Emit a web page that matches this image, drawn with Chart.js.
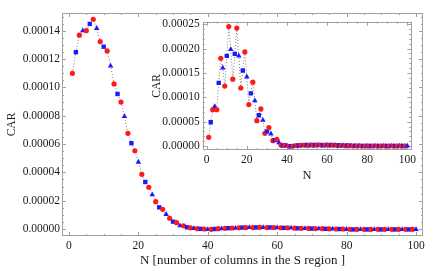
<!DOCTYPE html>
<html>
<head>
<meta charset="utf-8">
<script src="https://cdn.jsdelivr.net/npm/chart.js@4.4.0/dist/chart.umd.min.js"></script>
<style>
  html, body { margin: 0; padding: 0; background: #fff; }
  #wrap { position: relative; width: 436px; height: 271px; }
  #main { position: absolute; left: 0; top: 0; }
  #inset { position: absolute; left: 145px; top: 10px; }
</style>
</head>
<body>
<div id="wrap">
  <canvas id="main" width="436" height="271" style="width:436px;height:271px"></canvas>
  <canvas id="inset" width="275" height="177" style="width:275px;height:177px"></canvas>
</div>
<script>
// N = 1..100
const nValues = [];
for (let i = 1; i <= 100; i++) nValues.push(i);

// main panel, CAR vs N
const carMain = [
  1.100e-4, 1.249e-4, 1.369e-4, 1.401e-4, 1.401e-4, 1.449e-4, 1.482e-4, 1.418e-4, 1.324e-4, 1.288e-4,
  1.258e-4, 1.152e-4, 1.025e-4, 9.54e-5, 8.97e-5, 7.96e-5, 6.76e-5, 6.06e-5, 5.53e-5, 4.73e-5,
  3.86e-5, 3.32e-5, 2.95e-5, 2.42e-5, 1.93e-5, 1.53e-5, 1.39e-5, 1.04e-5, 7.6e-6, 5.2e-6,
  4.5e-6, 2.3e-6, 2.3e-6, 1.2e-6, 8e-7, 4e-7, 2e-7, 1e-7, 0, -3e-7,
  -2e-7, 0, 2e-7, 3e-7, 5e-7, 6e-7, 7e-7, 6e-7, 8e-7, 1.0e-6,
  1.0e-6, 1.1e-6, 1.0e-6, 1.1e-6, 1.2e-6, 1.1e-6, 1.0e-6, 1.1e-6, 1.0e-6, 1.0e-6,
  9e-7, 8e-7, 8e-7, 7e-7, 6e-7, 5e-7, 5e-7, 4e-7, 4e-7, 3e-7,
  3e-7, 2e-7, 2e-7, 1e-7, 1e-7, 1e-7, 0, 0, 0, -2e-7,
  -2e-7, -3e-7, -2e-7, -3e-7, -2e-7, -3e-7, -2e-7, -3e-7, -2e-7, -3e-7,
  -2e-7, -3e-7, -2e-7, -3e-7, -2e-7, -3e-7, -2e-7, -3e-7, -2e-7, -3e-7
];

// inset panel, CAR vs N
const carInset = [
  1.77e-5, 4.87e-5, 7.45e-5, 8.1e-5, 7.45e-5, 1.295e-4, 1.80e-4, 1.60e-4, 1.23e-4, 1.85e-4,
  2.45e-4, 1.98e-4, 1.37e-4, 1.89e-4, 2.42e-4, 1.85e-4, 1.19e-4, 1.55e-4, 1.93e-4, 1.42e-4,
  8.5e-5, 1.08e-4, 1.31e-4, 9.3e-5, 5.2e-5, 6.3e-5, 7.6e-5, 5.3e-5, 2.6e-5, 3.0e-5,
  3.8e-5, 2.5e-5, 1.1e-5, 1.2e-5, 1.35e-5, 7e-6, 2e-6, 1e-6, 1.5e-6, 5e-7,
  -5e-7, -5e-7, 0, 0, 1e-6, 1e-6, 1.5e-6, 1e-6, 1.5e-6, 2e-6,
  1.5e-6, 2e-6, 1.5e-6, 2e-6, 2e-6, 1.5e-6, 2e-6, 1.5e-6, 2e-6, 2e-6,
  1.5e-6, 2e-6, 1.5e-6, 1.5e-6, 1e-6, 1.5e-6, 1e-6, 1e-6, 5e-7, 1e-6,
  5e-7, 5e-7, 0, 5e-7, 0, 5e-7, 0, 0, 0, 0,
  0, 0, 0, 0, 0, 0, 0, 0, 0, 0,
  0, 0, 0, 0, 0, 0, 0, 0, 0, 0
];

// axis ticks
const xTicks = [0, 20, 40, 60, 80, 100];
const yTicksMain = [0, 0.00002, 0.00004, 0.00006, 0.00008, 0.00010, 0.00012, 0.00014];
const yTicksInset = [0, 0.00005, 0.00010, 0.00015, 0.00020, 0.00025];

const serif = 'Liberation Serif';
const frameColor = '#a0a0a0';
const textColor = '#1a1a1a';

function markStyle(n) {
  if (n % 2 === 1) return 'circle';
  return n % 4 === 2 ? 'rect' : 'triangle';
}

// Mathematica-like frame with inward ticks on all four sides
const frameTicks = {
  id: 'frameTicks',
  beforeDatasetsDraw(chart, args, opts) {
    const {ctx, chartArea: a, scales: {x, y}} = chart;
    ctx.save();
    ctx.strokeStyle = frameColor;
    ctx.lineWidth = 1;
    ctx.strokeRect(Math.round(a.left) + 0.5, Math.round(a.top) + 0.5,
      Math.round(a.right - a.left) - 1, Math.round(a.bottom - a.top) - 1);
    ctx.beginPath();
    for (let v = opts.xMinorStart; v <= x.max; v += opts.xMinorStep) {
      const vv = Math.round(v * 1e6) / 1e6;
      if (vv < x.min) continue;
      const len = xTicks.includes(vv) ? 4 : 2;
      const px = Math.round(x.getPixelForValue(vv)) + 0.5;
      ctx.moveTo(px, a.bottom); ctx.lineTo(px, a.bottom - len);
      ctx.moveTo(px, a.top); ctx.lineTo(px, a.top + len);
    }
    for (let k = 0; ; k++) {
      const v = opts.yMinorStep * k;
      if (v > y.max) break;
      const major = opts.yMajor.some(m => Math.abs(m - v) < 1e-10);
      const len = major ? 4 : 2;
      const py = Math.round(y.getPixelForValue(v)) + 0.5;
      ctx.moveTo(a.left, py); ctx.lineTo(a.left + len, py);
      ctx.moveTo(a.right, py); ctx.lineTo(a.right - len, py);
    }
    ctx.stroke();
    ctx.restore();
  }
};

function makeChart(id, values, yTicks, cfg) {
  const points = nValues.map((n, i) => ({x: n, y: values[i]}));
  return new Chart(document.getElementById(id), {
    type: 'line',
    data: {
      datasets: [{
        data: points,
        borderColor: '#808080',
        borderWidth: 1,
        borderDash: [1, 2],
        tension: 0,
        pointStyle: ctx => markStyle(nValues[ctx.dataIndex]),
        pointRadius: ctx => {
          const s = markStyle(nValues[ctx.dataIndex]);
          return s === 'circle' ? 2.6 : (s === 'rect' ? 3.1 : 3.2);
        },
        pointBackgroundColor: ctx => nValues[ctx.dataIndex] % 2 ? '#ff1a1a' : '#1a1aff',
        pointBorderWidth: 0
      }]
    },
    options: {
      responsive: false,
      animation: false,
      events: [],
      layout: {padding: cfg.padding},
      plugins: {
        legend: {display: false},
        tooltip: {enabled: false},
        frameTicks: {
          xMinorStart: 0, xMinorStep: 5,
          yMinorStep: cfg.yMinor, yMajor: yTicks
        }
      },
      scales: {
        x: {
          type: 'linear',
          min: -2, max: 102,
          grid: {display: false, drawTicks: false},
          border: {display: false},
          afterBuildTicks: s => { s.ticks = xTicks.map(v => ({value: v})); },
          afterFit: s => { s.height = cfg.xHeight; },
          ticks: {
            autoSkip: false, maxRotation: 0, padding: cfg.xTickPad,
            color: textColor, font: {family: serif, size: 11.5},
            callback: v => String(v)
          },
          title: {
            display: true, text: cfg.xTitle, color: textColor,
            font: {family: serif, size: cfg.xTitleSize},
            padding: {top: 0, bottom: cfg.xTitlePad}
          }
        },
        y: {
          type: 'linear',
          min: cfg.yMin, max: cfg.yMax,
          grid: {display: false, drawTicks: false},
          border: {display: false},
          afterBuildTicks: s => { s.ticks = yTicks.map(v => ({value: v})); },
          afterFit: s => { s.width = cfg.yWidth; },
          ticks: {
            autoSkip: false, padding: cfg.yTickPad,
            color: textColor, font: {family: serif, size: 11.5},
            callback: v => v.toFixed(5)
          },
          title: {
            display: true, text: 'CAR', color: textColor,
            font: {family: serif, size: 11.5},
            padding: {top: cfg.yTitlePad, bottom: 0}
          }
        }
      }
    },
    plugins: [frameTicks]
  });
}

makeChart('main', carMain, yTicksMain, {
  padding: {top: 13, right: 13, left: 0, bottom: 0},
  xHeight: 35, yWidth: 62,
  yMin: -0.00000494, yMax: 0.0001526, yMinor: 0.000005,
  xTickPad: 3, yTickPad: 2,
  xTitle: 'N [number of columns in the S region ]', xTitleSize: 13, xTitlePad: 3,
  yTitlePad: 5
});

makeChart('inset', carInset, yTicksInset, {
  padding: {top: 11.7, right: 8.7, left: 0, bottom: 0},
  xHeight: 37, yWidth: 57.7,
  yMin: -0.0000082, yMax: 0.000255, yMinor: 0.00001,
  xTickPad: 3, yTickPad: 3,
  xTitle: 'N', xTitleSize: 12.5, xTitlePad: 4,
  yTitlePad: 5
});
</script>
</body>
</html>
